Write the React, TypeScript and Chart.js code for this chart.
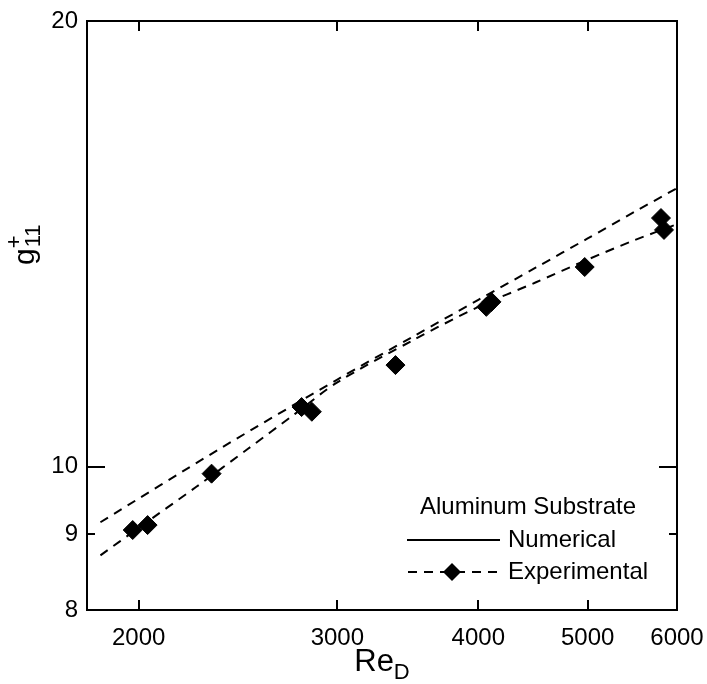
import React, { useEffect, useRef } from "react";
import { Chart, registerables } from "chart.js";

Chart.register(...registerables);

const expRe = [1976, 2037, 2321, 2789, 2848, 3378, 4066, 4109, 4970, 5807, 5843];
const expG = [9.06, 9.13, 9.89, 10.97, 10.89, 11.71, 12.82, 12.92, 13.64, 14.72, 14.45];

const numRe = [1850, 2360, 3000, 3500, 4000, 4500, 5000, 5500, 6000];
const numG = [9.17, 10.28, 11.45, 12.24, 12.96, 13.63, 14.26, 14.86, 15.42];

const fitRe = [1850, 2000, 2250, 2500, 2750, 3000, 3500, 4000, 4500, 5000, 5500, 6000];
const fitG = [8.71, 9.09, 9.69, 10.28, 10.85, 11.4, 12.17, 12.82, 13.32, 13.8, 14.22, 14.58];

const xTicks = [2000, 3000, 4000, 5000, 6000];
const yTicks = [8, 9, 10, 20];

const legendTitle = "Aluminum Substrate";
const legendNum = "Numerical";
const legendExp = "Experimental";

const FONT = "'Liberation Sans', Arial, Helvetica, sans-serif";

const framePlugin = {
  id: "frame",
  afterDraw(chart: any) {
    const { ctx, chartArea } = chart;
    const { left, right, top, bottom } = chartArea;
    const xs = chart.scales.x;
    const ys = chart.scales.y;
    ctx.save();
    ctx.strokeStyle = "#000";
    ctx.lineWidth = 2;
    ctx.setLineDash([]);
    ctx.strokeRect(left, top, right - left, bottom - top);
    ctx.beginPath();
    [2000, 3000, 4000, 5000].forEach((v) => {
      const px = Math.round(xs.getPixelForValue(v));
      ctx.moveTo(px, bottom);
      ctx.lineTo(px, bottom - 10);
      ctx.moveTo(px, top);
      ctx.lineTo(px, top + 10);
    });
    const yt: [number, number][] = [[10, 18], [9, 8]];
    yt.forEach(([v, len]) => {
      const py = Math.round(ys.getPixelForValue(v));
      ctx.moveTo(left, py);
      ctx.lineTo(left + len, py);
      ctx.moveTo(right, py);
      ctx.lineTo(right - len, py);
    });
    ctx.stroke();

    ctx.fillStyle = "#000";
    ctx.textBaseline = "alphabetic";
    ctx.textAlign = "left";
    ctx.font = `31px ${FONT}`;
    const reW = ctx.measureText("Re").width;
    ctx.font = `22px ${FONT}`;
    const dW = ctx.measureText("D").width;
    const cx = 382;
    const sx = cx - (reW + dW) / 2;
    ctx.font = `31px ${FONT}`;
    ctx.fillText("Re", sx, 671);
    ctx.font = `22px ${FONT}`;
    ctx.fillText("D", sx + reW, 679);

    ctx.save();
    ctx.translate(34, 265);
    ctx.rotate(-Math.PI / 2);
    ctx.font = `30px ${FONT}`;
    const gW = ctx.measureText("g").width;
    ctx.fillText("g", 0, 0);
    ctx.font = `22px ${FONT}`;
    ctx.fillText("+", gW, -13);
    ctx.fillText("11", gW + 1, 6);
    ctx.restore();

    ctx.font = `24px ${FONT}`;
    ctx.textBaseline = "middle";
    ctx.textAlign = "center";
    ctx.fillText(legendTitle, 528, 507);
    ctx.textAlign = "left";
    ctx.fillText(legendNum, 508, 540);
    ctx.fillText(legendExp, 508, 572);
    ctx.lineWidth = 2;
    ctx.beginPath();
    ctx.moveTo(407, 540);
    ctx.lineTo(500, 540);
    ctx.stroke();
    ctx.setLineDash([9, 7]);
    ctx.beginPath();
    ctx.moveTo(408, 572);
    ctx.lineTo(498, 572);
    ctx.stroke();
    ctx.setLineDash([]);
    ctx.beginPath();
    ctx.moveTo(452 - 9, 572);
    ctx.lineTo(452, 572 - 9);
    ctx.lineTo(452 + 9, 572);
    ctx.lineTo(452, 572 + 9);
    ctx.closePath();
    ctx.fill();
    ctx.restore();
  },
};

export default function App() {
  const ref = useRef<HTMLCanvasElement | null>(null);

  useEffect(() => {
    if (!ref.current) return;
    const chart = new Chart(ref.current, {
      type: "scatter",
      data: {
        datasets: [
          {
            label: legendNum,
            data: numRe.map((x, i) => ({ x, y: numG[i] })),
            showLine: true,
            borderColor: "#000",
            borderWidth: 2,
            borderDash: [9, 7],
            pointRadius: 0,
            tension: 0.3,
            fill: false,
          },
          {
            label: legendExp + " fit",
            data: fitRe.map((x, i) => ({ x, y: fitG[i] })),
            showLine: true,
            borderColor: "#000",
            borderWidth: 2,
            borderDash: [9, 7],
            pointRadius: 0,
            tension: 0.3,
            fill: false,
          },
          {
            label: legendExp,
            data: expRe.map((x, i) => ({ x, y: expG[i] })),
            showLine: false,
            pointStyle: "rectRot",
            pointRadius: 9.5,
            backgroundColor: "#000",
            borderColor: "#000",
            borderWidth: 1,
            clip: false as any,
          },
        ],
      },
      options: {
        responsive: false,
        animation: false,
        layout: { padding: { top: 21, right: 30, left: 0, bottom: 0 } },
        plugins: { legend: { display: false }, tooltip: { enabled: false } },
        scales: {
          x: {
            type: "logarithmic",
            min: 1800,
            max: 6000,
            afterBuildTicks: (s: any) => {
              s.ticks = xTicks.map((v) => ({ value: v }));
            },
            afterFit: (s: any) => {
              s.height = 74;
              s.paddingLeft = 0;
              s.paddingRight = 0;
            },
            grid: { display: false, drawTicks: false },
            border: { display: false },
            ticks: {
              autoSkip: false,
              maxRotation: 0,
              padding: 14,
              color: "#000",
              font: { family: FONT, size: 24 },
              callback: (v: any) => String(v),
            },
          },
          y: {
            type: "logarithmic",
            min: 8,
            max: 20,
            afterBuildTicks: (s: any) => {
              s.ticks = yTicks.map((v) => ({ value: v }));
            },
            afterFit: (s: any) => {
              s.width = 87;
              s.paddingTop = 0;
              s.paddingBottom = 0;
            },
            grid: { display: false, drawTicks: false },
            border: { display: false },
            ticks: {
              autoSkip: false,
              padding: 9,
              color: "#000",
              font: { family: FONT, size: 24 },
              callback: (v: any) => String(v),
            },
          },
        },
      },
      plugins: [framePlugin],
    });
    return () => chart.destroy();
  }, []);

  return (
    <div style={{ position: "fixed", left: 0, top: 0, width: 707, height: 684, background: "#fff" }}>
      <canvas ref={ref} width={707} height={684} style={{ width: 707, height: 684 }} />
    </div>
  );
}
